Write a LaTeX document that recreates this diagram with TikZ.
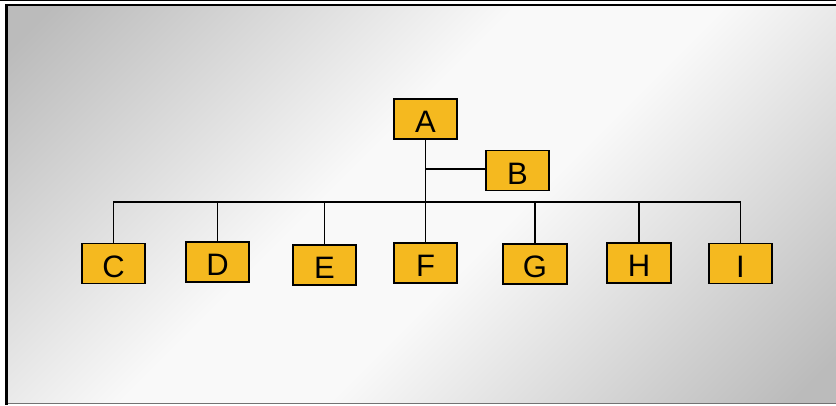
\documentclass[tikz,border=0pt]{standalone}
\usepackage{fontspec}
\setmainfont{Liberation Sans}
\definecolor{cg}{HTML}{BBBBBB}
\definecolor{cw}{HTML}{F9F9F9}
\definecolor{boxfill}{HTML}{F5B91F}
\pgfdeclareverticalshading{bgshade}{100bp}{color(0bp)=(cg); color(17bp)=(cg); color(44bp)=(cw); color(56bp)=(cw); color(83bp)=(cg); color(100bp)=(cg)}
\tikzset{
  orgbox/.style={draw=black, line width=1.7pt, fill=boxfill, minimum width=63.5pt, minimum height=40pt, inner sep=0pt, text height=27pt, text depth=0pt, font=\fontsize{31}{36}\selectfont},
  link/.style={draw=black, line width=1.8pt},
}
\begin{document}
\begin{tikzpicture}[x=1pt,y=-1pt]
\useasboundingbox (0,0) rectangle (836,405);
\fill[white] (0,0) rectangle (836,405);
\shade[shading=bgshade, shading angle=45] (8,6) rectangle (836,402.5);
\draw[black, line width=1.2pt] (0,0.8) -- (836,0.8);
\draw[black, line width=2.4pt] (5,5) -- (836,5);
\draw[black, line width=2.4pt] (6.5,4) -- (6.5,405);
\draw[black!55, line width=1.5pt] (8,403.5) -- (836,403.5);

\node[orgbox] (A) at (425.5,119) {A};
\node[orgbox] (B) at (517.5,170.5) {B};
\node[orgbox] (C) at (113.5,263.5) {C};
\node[orgbox] (D) at (217.5,262) {D};
\node[orgbox] (E) at (324.5,265) {E};
\node[orgbox] (F) at (425.5,263) {F};
\node[orgbox] (G) at (535,264.3) {G};
\node[orgbox] (H) at (639,262.8) {H};
\node[orgbox] (I) at (740.5,263.5) {I};

\coordinate (busL) at (113.5,202);
\coordinate (busR) at (740.5,202);
\draw[link, line cap=rect] (busL) -- (busR);
\draw[link] (A.south) -- (A |- busL);
\draw[link] ([yshift=1.8pt]B.west) -- ([yshift=1.8pt]B.west -| A);
\foreach \n in {C,D,E,F,G,H,I}{
  \draw[link] (\n.north) -- (\n |- busL);
}
\end{tikzpicture}
\end{document}
